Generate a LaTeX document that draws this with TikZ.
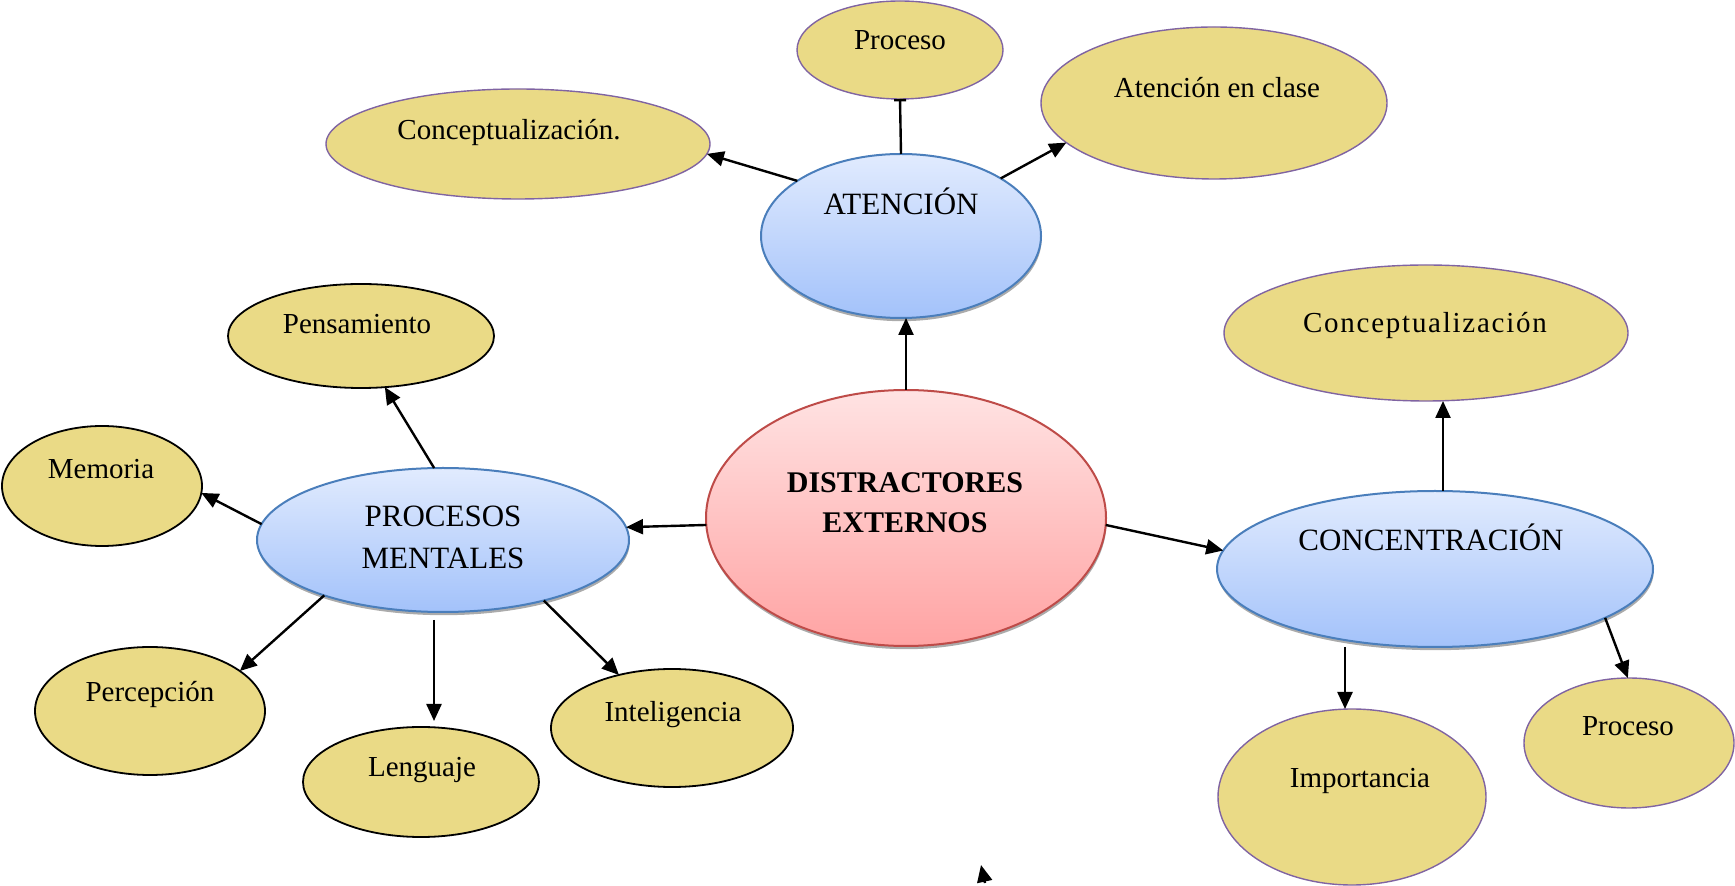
\documentclass[tikz,border=0pt]{standalone}
\usepackage{fontspec}
\setmainfont{Liberation Serif}
\usetikzlibrary{shapes.geometric,arrows.meta,shadows}
\definecolor{amarillo}{HTML}{EADA86}
\definecolor{morado}{HTML}{8064A2}
\definecolor{azulborde}{HTML}{4A7EBB}
\definecolor{azularriba}{HTML}{E1EBFE}
\definecolor{azulabajo}{HTML}{A3C2FA}
\definecolor{rojoborde}{HTML}{BE4B48}
\definecolor{rojoarriba}{HTML}{FFE3E3}
\definecolor{rojoabajo}{HTML}{FFA3A3}
\tikzset{
  elipse/.style={ellipse, inner sep=0pt, outer sep=0pt},
  hoja/.style={elipse, fill=amarillo, draw=morado, line width=0.7pt},
  hojanegra/.style={elipse, fill=amarillo, draw=black, line width=0.9pt},
  sombra/.style={drop shadow={shadow xshift=0.3pt, shadow yshift=-1.6pt, opacity=0.6, fill=black!55}},
  rama/.style={elipse, draw=azulborde, line width=1pt, top color=azularriba, bottom color=azulabajo, sombra},
  centro/.style={elipse, draw=rojoborde, line width=1pt, top color=rojoarriba, bottom color=rojoabajo, sombra},
  txt/.style={anchor=base, inner sep=0pt, font=\fontsize{14.5}{17}\selectfont},
  txtrama/.style={txt, font=\fontsize{15.5}{18}\selectfont},
  flecha/.style={-{Triangle[length=8.5pt,width=7.5pt]}, line width=1.2pt},
}
\begin{document}
\begin{tikzpicture}[x=0.5pt,y=-0.5pt]
\useasboundingbox (0,0) rectangle (1735,886);
% elipses
\node[centro, minimum width=200pt, minimum height=128pt] (dist) at (906,518) {};
\node[rama, minimum width=140pt, minimum height=82pt] (aten) at (901,236) {};
\node[rama, minimum width=186pt, minimum height=72pt] (pm) at (443,540) {};
\node[rama, minimum width=218pt, minimum height=78pt] (conc) at (1435,569) {};
\node[hoja, minimum width=103pt, minimum height=49pt] (procTop) at (900,50) {};
\node[hoja, minimum width=192pt, minimum height=55pt] (concL) at (518,144) {};
\node[hoja, minimum width=173pt, minimum height=76pt] (atClase) at (1214,103) {};
\node[hojanegra, minimum width=133pt, minimum height=52pt] (pens) at (361,336) {};
\node[hojanegra, minimum width=100pt, minimum height=60pt] (mem) at (102,486) {};
\node[hojanegra, minimum width=115pt, minimum height=64pt] (perc) at (150,711) {};
\node[hojanegra, minimum width=118pt, minimum height=55pt] (leng) at (421,782) {};
\node[hojanegra, minimum width=121pt, minimum height=59pt] (intel) at (672,728) {};
\node[hoja, minimum width=202pt, minimum height=68pt] (concR) at (1426,333) {};
\node[hoja, minimum width=134pt, minimum height=88pt] (impo) at (1352,797) {};
\node[hoja, minimum width=105pt, minimum height=65pt] (procR) at (1629,743) {};
% textos
\node[txt, font=\fontsize{15}{18}\bfseries] (distA) at (905,493) {DISTRACTORES};
\node[txt, font=\fontsize{15}{18}\bfseries] (distB) at (905,533) {EXTERNOS};
\node[txtrama] (atenT) at (901,215) {ATENCIÓN};
\node[txtrama] (pmA) at (443,527) {PROCESOS};
\node[txtrama] (pmB) at (443,569) {MENTALES};
\node[txtrama] (concT) at (1431,551) {CONCENTRACIÓN};
\node[txt] (procTopT) at (900,50) {Proceso};
\node[txt] (concLT) at (509,140) {Conceptualización.};
\node[txt] (atClaseT) at (1217,98) {Atención en clase};
\node[txt] (pensT) at (357,334) {Pensamiento};
\node[txt] (memT) at (101,479) {Memoria};
\node[txt] (percT) at (150,702) {Percepción};
\node[txt] (lengT) at (422,777) {Lenguaje};
\node[txt] (intelT) at (673,722) {Inteligencia};
\node[txt, font=\fontsize{14.5}{17}\selectfont\addfontfeature{LetterSpace=6}] (concRT) at (1425,333) {Conceptualización};
\node[txt] (impoT) at (1360,788) {Importancia};
\node[txt] (procRT) at (1628,736) {Proceso};
% conectores
\draw[flecha] (dist.north) -- (dist.north |- aten.south);
\draw[flecha] (dist.182) -- (pm.4);
\draw[flecha] (dist.-2.6) -- (conc.175.9);
\draw[flecha] (aten.152) -- (concL.-3.6);
\draw[flecha] (aten.30) -- (atClase.195);
\draw[-{Bar[width=6pt]}, line width=1.2pt] (aten.north) -- (procTop.south);
\draw[flecha] (pm.97) -- (pens.-65);
\draw[flecha] (pm.175) -- (mem.-4);
\draw[flecha] (pm.205.5) -- (perc.24);
\draw[flecha, shorten <=4pt, shorten >=3pt] ([xshift=-4.5pt]pm.south) -- ([xshift=-4.5pt]pm.south |- leng.north);
\draw[flecha] (pm.-31) -- (intel.135);
\draw[flecha] ([xshift=4pt]conc.north) -- ([xshift=4pt]conc.north |- concR.south);
\draw[flecha] ([xshift=-45pt]conc.south) -- ([xshift=-45pt]conc.south |- impo.north);
\draw[flecha] (conc.-16.2) -- (procR.91);
% punta suelta
\coordinate (sueltaA) at (985,883);
\coordinate (sueltaB) at (981,865);
\draw[flecha] (sueltaA) -- (sueltaB);
\end{tikzpicture}
\end{document}
